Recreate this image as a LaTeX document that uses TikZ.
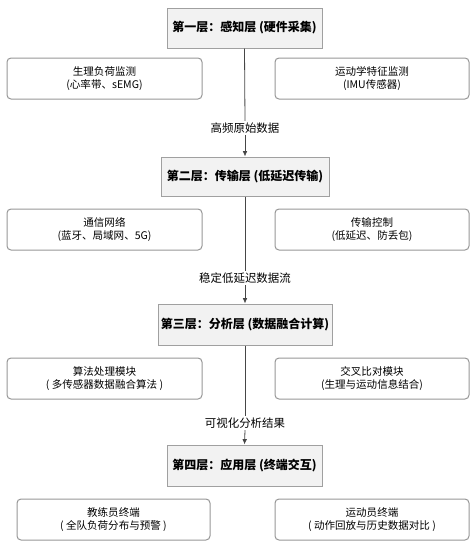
\documentclass[tikz,border=0pt]{standalone}
\usepackage{fontspec}
\setmainfont{Noto Sans CJK SC}
\usetikzlibrary{arrows.meta}

\tikzset{every picture/.style={line width=0.75pt}}
\definecolor{layerfill}{RGB}{242,242,242}
\definecolor{layerdraw}{RGB}{160,160,160}
\definecolor{subdraw}{RGB}{150,150,150}
\definecolor{flowline}{RGB}{70,70,70}
\tikzset{
  layerbox/.style={draw=layerdraw, fill=layerfill, inner sep=0pt, minimum height=30pt,
    font=\bfseries\fontsize{9}{11}\selectfont},
  subbox/.style={draw=subdraw, rounded corners=3pt, inner sep=0pt, minimum width=145.5pt,
    minimum height=30.75pt, align=center, font=\fontsize{7.9}{9.75}\selectfont},
  flowlabel/.style={inner sep=1pt, fill=white, font=\fontsize{8.6}{10}\selectfont},
  flow/.style={draw=flowline, line width=0.6pt},
  flowtip/.style={flow, -{Latex[length=4pt,width=3.5pt]}}
}

\begin{document}
\begin{tikzpicture}[x=0.75pt,y=0.75pt,yscale=-1,xscale=1]
	\path[use as bounding box] (0,0) rectangle (473,543);

	% Layer 1
	\node[layerbox, minimum width=116.25pt] (lay1) at (244.5,28) {第一层：感知层 (硬件采集)};
	\node[subbox, minimum width=146.25pt] (physio) at (104.5,78.5) {生理负荷监测\\(心率带、sEMG)};
	\node[subbox] (kinem) at (372,78.5) {运动学特征监测\\(IMU传感器)};
	% Text Node
	\node[flowlabel] (rawdata) at (245,128) {高频原始数据};

	% Layer 2
	\node[layerbox, minimum width=126pt, minimum height=29.25pt] (lay2) at (245,176.5) {第二层：传输层 (低延迟传输)};
	\node[subbox, minimum width=146.25pt] (network) at (104.5,229.5) {通信网络\\(蓝牙、局域网、5G)};
	\node[subbox] (transctl) at (372,229.5) {传输控制\\(低延迟、防丢包)};
	% Text Node
	\node[flowlabel] (stream) at (245,278) {稳定低延迟数据流};

	% Layer 3
	\node[layerbox, minimum width=130.5pt, minimum height=30.75pt] (lay3) at (245,324.5) {第三层：分析层 (数据融合计算)};
	\node[subbox, minimum width=146.25pt] (algo) at (104.5,378.5) {算法处理模块\\( 多传感器数据融合算法 )};
	\node[subbox] (cross) at (372,378.5) {交叉比对模块\\(生理与运动信息结合)};
	% Text Node
	\node[flowlabel] (result) at (245,423) {可视化分析结果};

	% Layer 4
	\node[layerbox, minimum width=116.25pt, minimum height=30.75pt] (lay4) at (244.5,465.5) {第四层：应用层 (终端交互)};
	\node[subbox, minimum width=144.75pt] (coach) at (113.5,519.5) {教练员终端\\( 全队负荷分布与预警 )};
	\node[subbox] (athlete) at (372,519.5) {运动员终端\\( 动作回放与历史数据对比 )};

	% Flow between layers
	\draw[flow] (lay1.south) -- (rawdata.north);
	\draw[flowtip] (rawdata.south) -- (lay2.north);
	\draw[flow] (lay2.south) -- (stream.north);
	\draw[flowtip] (stream.south) -- (lay3.north);
	\draw[flow] (lay3.south) -- (result.north);
	\draw[flowtip] (result.south) -- (lay4.north);

\end{tikzpicture}
\end{document}
